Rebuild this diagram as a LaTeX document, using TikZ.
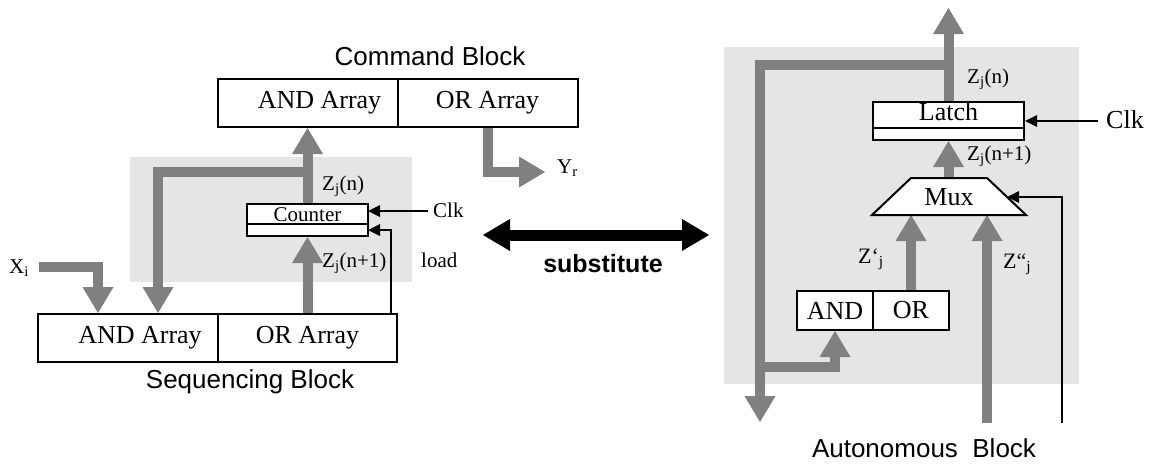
\documentclass[tikz,border=0pt]{standalone}
\usepackage{fontspec}
\setmainfont{Liberation Serif}
\newfontfamily\labelsans{Liberation Sans}
\usetikzlibrary{arrows.meta,calc}
\definecolor{shadegray}{RGB}{229,229,229}
\definecolor{busgray}{RGB}{128,128,128}
\pgfdeclarelayer{bg}
\pgfdeclarelayer{mid}
\pgfsetlayers{bg,mid,main}
\tikzset{
  big/.style={font=\fontsize{26}{30}\selectfont},
  small/.style={font=\fontsize{21}{25}\selectfont},
  blockbox/.style={draw, line width=2pt, fill=white, minimum height=48pt, inner sep=0pt, big},
  regbox/.style={draw, line width=2pt, fill=white, inner sep=0pt},
  busline/.style={draw=busgray, line width=10pt, line join=miter,
    -{Triangle[length=26pt,width=31pt,line width=0pt]}},
  wire/.style={draw=black, line width=1.5pt,
    -{Triangle[length=12pt,width=12pt,line width=0pt]}},
  caption/.style={font=\labelsans\fontsize{26}{30}\selectfont, inner sep=0pt, anchor=base},
  sig/.style={small, inner sep=0pt, anchor=base west},
  bigsig/.style={big, inner sep=0pt, anchor=base west},
}
\begin{document}
\begin{tikzpicture}[x=1pt,y=-1pt]
\useasboundingbox (0,0) rectangle (1153,463);

% shaded regions
\begin{pgfonlayer}{bg}
  \fill[shadegray] (130,157) rectangle (412,282);
  \fill[shadegray] (724,47) rectangle (1079,384);
\end{pgfonlayer}

% ---------------- left: command and sequencing blocks ----------------
\node[blockbox, minimum width=180pt] (cmdAnd) at (307.5,103) {\hspace*{24pt}AND Array};
\node[blockbox, minimum width=180pt] (cmdOr) at (487.5,103) {OR Array};
\node[caption] (cmdCap) at (430,65) {Command Block};

\node[blockbox, minimum width=180pt] (seqAnd) at (128,337.5) {\hspace*{24pt}AND Array};
\node[blockbox, minimum width=179pt] (seqOr) at (307.5,337.5) {OR Array};
\node[caption] (seqCap) at (250,388) {Sequencing Block};

\node[regbox, minimum width=121pt, minimum height=32pt] (counter) at (307.5,220) {};
\draw[line width=2pt] ($(counter.west)+(0,4)$) -- ($(counter.east)+(0,4)$);
\node[small, inner sep=0pt, anchor=base] (counterTxt) at (307.5,221) {Counter};

\coordinate (tapL) at (307.5,172);
\coordinate (andInB) at (158,313);
\coordinate (xiStart) at (39,267);
\coordinate (andInA) at (98,313);
\coordinate (loadTap) at (391,313);
\coordinate (cntLoad) at (368,230);
\coordinate (clkL) at (428,211);
\coordinate (cntClk) at (368,211);
\coordinate (yrOut) at (545,172);

\begin{pgfonlayer}{mid}
  \draw[busline] (counter.north) -- (cmdAnd.south);
  \draw[busline] (tapL) -| (andInB);
  \draw[busline] (xiStart) -| (andInA);
  \draw[busline] (seqOr.north) -- (counter.south);
  \draw[busline] (cmdOr.south) |- (yrOut);
\end{pgfonlayer}
\draw[wire] (loadTap) |- (cntLoad);
\draw[wire] (clkL) -- (cntClk);

\node[sig] (lZn) at (322,190) {Z\textsubscript{j}(n)};
\node[sig] (lZn1) at (322,267) {Z\textsubscript{j}(n+1)};
\node[sig] (lLoad) at (421,267) {load};
\node[sig] (lClk) at (433,217) {Clk};
\node[sig] (lXi) at (9,273) {X\textsubscript{i}};
\node[sig] (lYr) at (557,173) {Y\textsubscript{r}};

% ---------------- substitution arrow ----------------
\coordinate (subL) at (483,235);
\coordinate (subR) at (709,235);
\draw[line width=11pt,
  {Triangle[length=27pt,width=32pt,line width=0pt]}-{Triangle[length=27pt,width=32pt,line width=0pt]}]
  (subL) -- (subR);
\node[font=\labelsans\bfseries\fontsize{25}{30}\selectfont, inner sep=0pt, anchor=base] (subTxt) at (603,272) {substitute};

% ---------------- right: autonomous block ----------------
\node[regbox, minimum width=151pt, minimum height=38pt] (latch) at (948.5,121) {};
\draw[line width=2pt] ($(latch.west)+(0,7)$) -- ($(latch.east)+(0,7)$);
\node[big, inner sep=0pt, anchor=base] (latchTxt) at (948.5,120) {Latch};

\coordinate (muxBL) at (872,215);
\coordinate (muxBR) at (1026,215);
\coordinate (muxTR) at (987,178);
\coordinate (muxTL) at (911,178);
\draw[line width=2pt, fill=white, line join=miter] (muxBL) -- (muxBR) -- (muxTR) -- (muxTL) -- cycle;
\node[big, inner sep=0pt, anchor=base] (muxTxt) at (949,205) {Mux};

\node[blockbox, minimum width=76pt, minimum height=39pt] (andR) at (835,310.5) {AND};
\node[blockbox, minimum width=76pt, minimum height=39pt] (orR) at (911,310.5) {OR};

\coordinate (outTop) at (948.5,8);
\coordinate (fbTap) at (948.5,65);
\coordinate (fbOut) at (760,422);
\coordinate (fbTap2) at (760,367);
\coordinate (muxInA) at (911,215);
\coordinate (muxOut) at (948.5,178);
\coordinate (zppIn) at (987,423);
\coordinate (muxInB) at (987,215);
\coordinate (selIn) at (1062,423);
\coordinate (muxSel) at (1007,197);
\coordinate (clkR) at (1098,121);

\begin{pgfonlayer}{mid}
  \draw[busline] (latch.north) -- (outTop);
  \draw[busline] (fbTap) -| (fbOut);
  \draw[busline] (fbTap2) -| (andR.south);
  \draw[busline] (orR.north) -- (muxInA);
  \draw[busline] (muxOut) -- (latch.south);
  \draw[busline] (zppIn) -- (muxInB);
\end{pgfonlayer}
\draw[wire] (selIn) |- (muxSel);
\draw[wire] (clkR) -- (latch.east);

\node[sig] (rZn) at (967,83) {Z\textsubscript{j}(n)};
\node[sig] (rZn1) at (967,160) {Z\textsubscript{j}(n+1)};
\node[bigsig] (rClk) at (1106,128) {Clk};
\node[sig, font=\fontsize{22}{26}\selectfont] (rZp) at (858,263) {Z‘\textsubscript{j}};
\node[sig, font=\fontsize{22}{26}\selectfont] (rZpp) at (1003,268) {Z“\textsubscript{j}};
\node[caption] (autoCap) at (924,457) {Autonomous\ \ Block};
\end{tikzpicture}
\end{document}
